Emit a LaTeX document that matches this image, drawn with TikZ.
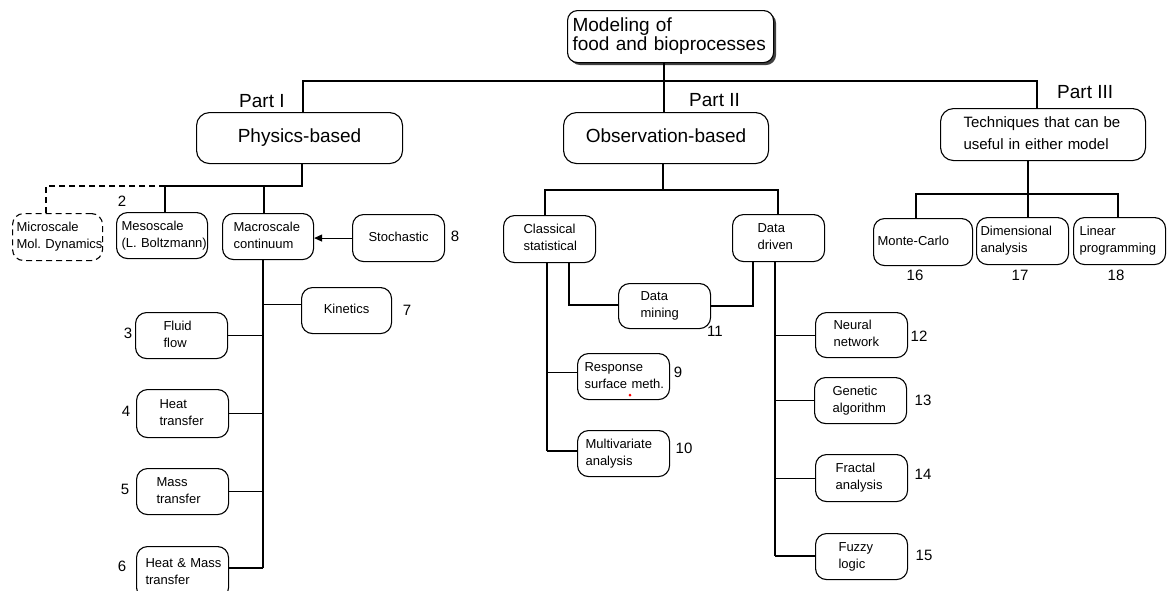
\documentclass[tikz,border=0pt]{standalone}
\usepackage{fontspec}
\setmainfont{Liberation Sans}
\usetikzlibrary{arrows.meta,shadows}
\frenchspacing
\newcommand\mybox[8]{%
  \pgfmathsetmacro\bxw{#4-#2-2*#6}%
  \pgfmathsetmacro\bxh{#5-#3}%
  \node[box,anchor=north west,inner xsep=#6pt,text width=\bxw pt,minimum height=\bxh pt,#7] (#1) at (#2,#3) {\begin{tabular}{@{}l@{}}#8\end{tabular}};}
\begin{document}
\begin{tikzpicture}[x=1pt,y=-1pt,
  box/.style={draw,rounded corners=11pt,line width=1.1pt,inner ysep=0pt,align=left,
     font=\fontsize{13}{17}\selectfont\frenchspacing},
  big/.style={font=\fontsize{19}{18}\selectfont},
  mid/.style={font=\fontsize{15}{22}\selectfont},
  num/.style={inner sep=0pt,font=\fontsize{15}{15}\selectfont},
  part/.style={inner sep=0pt,anchor=base west,font=\fontsize{19}{19}\selectfont},
  conn/.style={line width=1.1pt},
  spine/.style={line width=1.7pt},
  ]
\useasboundingbox (0,0) rectangle (1167,590);
% top level
\mybox{top}{567}{10}{773}{62}{5}{big,rounded corners=10pt,fill=white,drop shadow={shadow xshift=2.5pt,shadow yshift=-2.5pt,fill=black!75,opacity=1}}{Modeling of\\food and bioprocesses}
\mybox{phys}{196}{112}{402}{163}{10}{big,align=center,rounded corners=13pt}{Physics-based}
\mybox{obs}{563}{112}{768}{163}{10}{big,align=center,rounded corners=13pt}{Observation-based}
\mybox{tech}{940}{108}{1145}{160}{23}{mid,rounded corners=13pt}{Techniques that can be\\useful in either model}
\node[part] (p1) at (239,107) {Part I};
\node[part] (p2) at (689,106) {Part II};
\node[part] (p3) at (1057,98) {Part III};
% Part I
\mybox{micro}{12}{213}{102}{260}{4}{dashed,dash pattern=on 6pt off 4pt}{Microscale\\Mol. Dynamics}
\mybox{meso}{116}{212}{207}{258}{5}{}{Mesoscale\\(L. Boltzmann)}
\mybox{macro}{222}{213}{313}{259}{11}{}{Macroscale\\continuum}
\mybox{stoch}{352}{214}{444}{261}{5}{align=center}{Stochastic}
\mybox{kin}{301}{287}{391}{333}{5}{align=center}{Kinetics}
\mybox{fluid}{135}{312}{227}{358}{28}{}{Fluid\\flow}
\mybox{heat}{136}{389}{228}{437}{23}{}{Heat\\transfer}
\mybox{mass}{136}{468}{228}{514}{20}{}{Mass\\transfer}
\mybox{hm}{136}{546}{228}{598}{9}{}{Heat \& Mass\\transfer}
% Part II
\mybox{class}{503}{215}{595}{262}{20}{}{Classical\\statistical}
\mybox{dd}{732}{214}{824}{261}{25}{}{Data\\driven}
\mybox{dmin}{618}{283}{710}{328}{22}{}{Data\\mining}
\mybox{resp}{577}{353}{669}{399}{7}{}{Response\\surface meth.}
\mybox{multi}{577}{430}{669}{476}{8}{}{Multivariate\\analysis}
\mybox{neur}{815}{312}{907}{357}{18}{}{Neural\\network}
\mybox{gen}{814}{377}{906}{423}{18}{}{Genetic\\algorithm}
\mybox{frac}{815}{454}{907}{501}{20}{}{Fractal\\analysis}
\mybox{fuz}{815}{533}{907}{579}{23}{}{Fuzzy\\logic}
% Part III
\mybox{mc}{873}{218}{972}{265}{4}{}{Monte-Carlo}
\mybox{dim}{976}{217}{1068}{264}{4}{}{Dimensional\\analysis}
\mybox{lin}{1073}{217}{1165}{264}{6}{}{Linear\\programming}
% numbers
\node[num] (n2) at (122,201) {2};
\node[num] (n3) at (128,333) {3};
\node[num] (n4) at (126,411) {4};
\node[num] (n5) at (125,489) {5};
\node[num] (n6) at (122,566) {6};
\node[num] (n7) at (407,310) {7};
\node[num] (n8) at (455,236) {8};
\node[num] (n9) at (678,372) {9};
\node[num] (n10) at (684,448) {10};
\node[num] (n11) at (715,331) {11};
\node[num] (n12) at (919,336) {12};
\node[num] (n13) at (923,400) {13};
\node[num] (n14) at (923,474) {14};
\node[num] (n15) at (924,555) {15};
\node[num] (n16) at (915,275) {16};
\node[num] (n17) at (1020,275) {17};
\node[num] (n18) at (1116,275) {18};
% junction coordinates
\coordinate (j0) at (664,81);
\coordinate (jL) at (303,81);
\coordinate (jR) at (1037,81);
\coordinate (jP) at (302,186);
\coordinate (jM) at (165,186);
\coordinate (jMa) at (264,186);
\coordinate (jMi) at (46,186);
\coordinate (sp1) at (263,568);
\coordinate (jO) at (663,190);
\coordinate (jC) at (545,190);
\coordinate (jD) at (778,190);
\coordinate (dm1) at (569,305);
\coordinate (dm2) at (753,306);
\coordinate (cs) at (547,451);
\coordinate (ds) at (775,556);
\coordinate (jT) at (1028,194);
\coordinate (jT1) at (916,194);
\coordinate (jT3) at (1118,194);
% top connectors
\draw[conn] (top.south -| j0) -- (obs.north -| j0);
\draw[conn] (phys.north -| jL) -- (jL) -- (jR) -- (tech.north -| jR);
% Part I connectors
\draw[conn] (phys.south -| jP) -- (jP) -- (jM) -- (meso.north -| jM);
\draw[conn] (jMa) -- (macro.north -| jMa);
\draw[conn,dashed,dash pattern=on 6pt off 4pt] (jM) -- (jMi) -- (micro.north -| jMi);
\draw[conn,-{Triangle[length=8pt,width=7pt]}] (stoch.west) -- (macro.east |- stoch.west);
\draw[spine] (macro.south -| sp1) -- (sp1);
\draw[conn] ([yshift=6pt]kin.west) -- ([yshift=6pt]kin.west -| sp1);
\draw[conn] (fluid.east) -- (fluid.east -| sp1);
\draw[conn] (heat.east) -- (heat.east -| sp1);
\draw[conn] (mass.east) -- (mass.east -| sp1);
\draw[conn] (sp1) -- (hm.east |- sp1);
% Part II connectors
\draw[conn] (obs.south -| jO) -- (jO);
\draw[conn] (class.north -| jC) -- (jC) -- (jD) -- (dd.north -| jD);
\draw[conn] (class.south -| dm1) -- (dm1) -- (dmin.west |- dm1);
\draw[conn] (dd.south -| dm2) -- (dm2) -- (dmin.east |- dm2);
\draw[spine] (class.south -| cs) -- (cs);
\draw[conn] (cs) -- (multi.west |- cs);
\draw[conn] ([yshift=4pt]resp.west) -- ([yshift=4pt]resp.west -| cs);
\draw[spine] (dd.south -| ds) -- (ds);
\draw[conn] (ds) -- (fuz.west |- ds);
\draw[conn] (neur.west) -- (neur.west -| ds);
\draw[conn] (gen.west) -- (gen.west -| ds);
\draw[conn] (frac.west) -- (frac.west -| ds);
% Part III connectors
\draw[conn] (tech.south -| jT) -- (dim.north -| jT);
\draw[conn] (mc.north -| jT1) -- (jT1) -- (jT3) -- (lin.north -| jT3);
% red dot
\fill[red] (630,395) circle (1.5);
\end{tikzpicture}
\end{document}
